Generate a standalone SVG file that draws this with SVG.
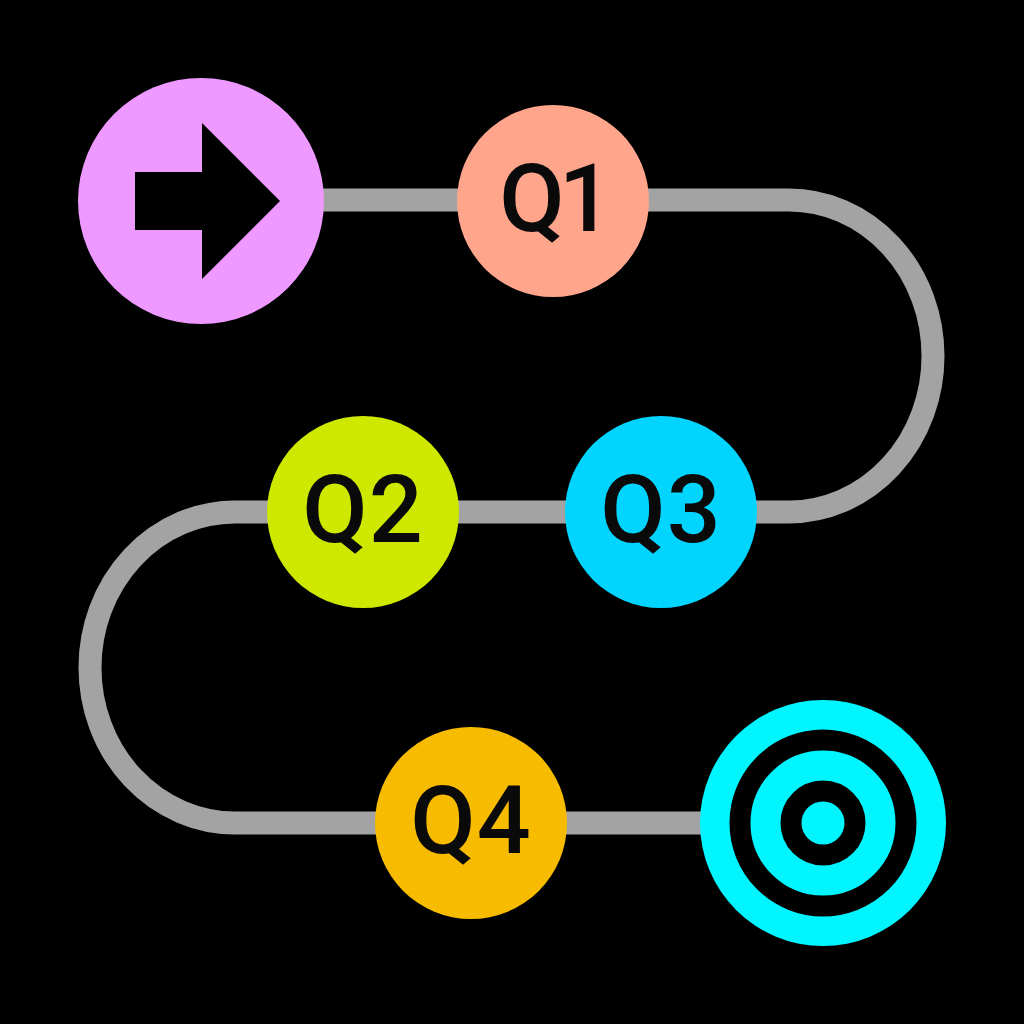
<svg xmlns="http://www.w3.org/2000/svg" width="1024" height="1024" viewBox="0 0 1024 1024">
<style>
.t{font-family:Roboto,"Liberation Sans",sans-serif;font-size:95px;font-weight:500;fill:#0a0a0a;text-anchor:middle}
</style>
<rect width="1024" height="1024" fill="#000"/>
<g id="connectors"><path d="M201 200H789A144 156 0 0 1 789 512H235A145 155.500 0 0 0 235 823H823" fill="none" stroke="#a3a3a3" stroke-width="23"/></g>
<g id="start"><circle cx="201" cy="201" r="123" fill="#ee99ff"/><path d="M135 172H202V123L280 201L202 279V230H135Z" fill="#000"/></g>
<g id="q1"><circle cx="553" cy="201" r="96" fill="#ffa58c"/><text class="t" x="553" y="231" letter-spacing="-6">Q1</text></g>
<g id="q2"><circle cx="363" cy="512" r="96" fill="#cfe800"/><text class="t" x="363" y="542" letter-spacing="1">Q2</text></g>
<g id="q3"><circle cx="661" cy="512" r="96" fill="#00d4ff"/><text class="t" x="661" y="542" letter-spacing="1">Q3</text></g>
<g id="q4"><circle cx="471" cy="823" r="96" fill="#f7bb00"/><text class="t" x="471" y="853" letter-spacing="1">Q4</text></g>
<g id="end"><circle cx="823" cy="823" r="123" fill="#00f5ff"/><circle cx="823" cy="823" r="83" fill="none" stroke="#000" stroke-width="21"/><circle cx="823" cy="823" r="32" fill="none" stroke="#000" stroke-width="21"/></g>
</svg>
